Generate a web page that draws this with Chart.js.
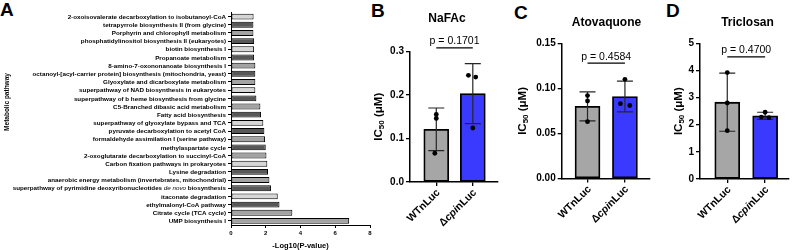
<!DOCTYPE html>
<html>
<head>
<meta charset="utf-8">
<script src="https://cdn.jsdelivr.net/npm/chart.js@4/dist/chart.umd.min.js"></script>
<style>
  body { margin: 0; background: #fff; width: 793px; height: 250px; overflow: hidden; position: relative; font-family: "Liberation Sans", Arial, sans-serif; }
  canvas { position: absolute; top: 0; }
  .panel { position: absolute; font-weight: bold; font-size: 19px; line-height: 1; color: #000; }
</style>
</head>
<body>
<div class="panel" style="left:0;top:0">A</div>
<div class="panel" style="left:371px;top:1px">B</div>
<div class="panel" style="left:514px;top:3px">C</div>
<div class="panel" style="left:666px;top:1px">D</div>

<canvas id="pathways" width="380" height="250" style="left:0"></canvas>
<canvas id="nafac" width="135" height="250" style="left:370px"></canvas>
<canvas id="atovaquone" width="150" height="250" style="left:505px"></canvas>
<canvas id="triclosan" width="138" height="250" style="left:655px"></canvas>

<script>
// --- panel A: enriched pathways ---
const pathways = [
  '2-oxoisovalerate decarboxylation to isobutanoyl-CoA',
  'tetrapyrrole biosynthesis II (from glycine)',
  'Porphyrin and chlorophyll metabolism',
  'phosphatidylinositol biosynthesis II (eukaryotes)',
  'biotin biosynthesis I',
  'Propanoate metabolism',
  '8-amino-7-oxononanoate biosynthesis I',
  'octanoyl-[acyl-carrier protein] biosynthesis (mitochondria, yeast)',
  'Glyoxylate and dicarboxylate metabolism',
  'superpathway of NAD biosynthesis in eukaryotes',
  'superpathway of b heme biosynthesis from glycine',
  'C5-Branched dibasic acid metabolism',
  'Fatty acid biosynthesis',
  'superpathway of glyoxylate bypass and TCA',
  'pyruvate decarboxylation to acetyl CoA',
  'formaldehyde assimilation I (serine pathway)',
  'methylaspartate cycle',
  '2-oxoglutarate decarboxylation to succinyl-CoA',
  'Carbon fixation pathways in prokaryotes',
  'Lysine degradation',
  'anaerobic energy metabolism (invertebrates, mitochondrial)',
  'superpathway of pyrimidine deoxyribonucleotides de novo biosynthesis',
  'itaconate degradation',
  'ethylmalonyl-CoA pathway',
  'Citrate cycle (TCA cycle)',
  'UMP biosynthesis I'
];
const negLogP = [1.30, 1.29, 1.29, 1.33, 1.33, 1.33, 1.40, 1.40, 1.40, 1.40, 1.46, 1.69, 1.73,
                 1.86, 1.92, 1.96, 2.00, 2.04, 2.09, 2.13, 2.21, 2.30, 2.69, 2.79, 3.53, 6.80];
const logTicks = [0, 2, 4, 6, 8];

// --- panels B-D: IC50 per strain ---
const strains = ['WTnLuc', 'ΔcpinLuc'];
const nafacMean = [0.121, 0.203];
const nafacSd = [0.049, 0.069];
const nafacReps = [[0.155, 0.146, 0.066], [0.245, 0.241, 0.124]];
const atovMean = [0.080, 0.091];
const atovSd = [0.016, 0.017];
const atovReps = [[0.092, 0.086, 0.063], [0.110, 0.083, 0.081]];
const triclMean = [2.83, 2.33];
const triclSd = [1.07, 0.13];
const triclReps = [[3.92, 2.80, 1.78], [2.46, 2.28, 2.26]];
const pValues = ['0.1701', '0.4584', '0.4700'];

// stijl
const FONT = '"Liberation Sans", Arial, sans-serif';
const LIGHT = '#d6d6d6', MID = '#a3a3a3', DARK = '#585858';
const pathwayColors = [LIGHT, DARK, MID, DARK, LIGHT, DARK, MID, DARK, MID, LIGHT, DARK, MID, DARK,
                       LIGHT, DARK, MID, DARK, MID, LIGHT, DARK, MID, DARK, LIGHT, DARK, MID, MID];
const strainColors = ['#a6a6a6', '#3a3aff'];
const italicTerms = ['de novo', 'cpi'];

function splitItalic(text) {
  const term = italicTerms.find(t => text.includes(t));
  if (!term) return [{ t: text, it: false }];
  const i = text.indexOf(term);
  return [
    { t: text.slice(0, i), it: false },
    { t: term, it: true },
    { t: text.slice(i + term.length), it: false }
  ].filter(s => s.t.length);
}

// draws text with italic pieces, anchored at x (right / center / left)
function drawRich(ctx, text, x, y, size, align, italicBold) {
  const segs = splitItalic(text);
  const fontOf = s => s.it ? `italic ${italicBold ? 'bold ' : ''}${size}px ${FONT}`
                           : `bold ${size}px ${FONT}`;
  let total = 0;
  segs.forEach(s => { ctx.font = fontOf(s); s.w = ctx.measureText(s.t).width; total += s.w; });
  let cx = align === 'right' ? x - total : align === 'center' ? x - total / 2 : x;
  ctx.textAlign = 'left';
  segs.forEach(s => { ctx.font = fontOf(s); ctx.fillText(s.t, cx, y); cx += s.w; });
}

const pathwayLabels = {
  id: 'pathwayLabels',
  afterDraw(chart) {
    const ctx = chart.ctx;
    const y = chart.scales.y;
    ctx.save();
    ctx.fillStyle = '#000';
    ctx.textBaseline = 'middle';
    pathways.forEach((p, i) => {
      drawRich(ctx, p, y.right - 5, y.getPixelForTick(i) + 0.5, 6.25, 'right', false);
    });
    // as-titel
    ctx.translate(7, 102);
    ctx.rotate(-Math.PI / 2);
    ctx.font = `bold 6.5px ${FONT}`;
    ctx.textAlign = 'center';
    ctx.fillText('Metabolic pathway', 0, 0);
    ctx.restore();
  }
};

new Chart(document.getElementById('pathways'), {
  type: 'bar',
  data: {
    labels: pathways,
    datasets: [{
      data: negLogP,
      backgroundColor: pathwayColors,
      borderColor: '#000',
      borderWidth: 1,
      borderSkipped: false,
      barPercentage: 0.72,
      categoryPercentage: 1
    }]
  },
  options: {
    indexAxis: 'y',
    responsive: false,
    animation: false,
    devicePixelRatio: 1,
    layout: { padding: { top: 12.5, right: 10, left: 0, bottom: 0 } },
    plugins: { legend: { display: false }, tooltip: { enabled: false } },
    scales: {
      x: {
        min: 0, max: 8,
        afterBuildTicks: s => { s.ticks = logTicks.map(v => ({ value: v })); },
        ticks: { font: { size: 6, weight: 'bold', family: FONT }, color: '#000', padding: 2, maxRotation: 0 },
        grid: { drawOnChartArea: false, tickLength: 3, color: '#000' },
        border: { color: '#000', width: 1 },
        title: { display: true, text: '-Log10(P-value)', font: { size: 7.5, weight: 'bold', family: FONT }, color: '#000', padding: 0 },
        afterFit: s => { s.height = 25; }
      },
      y: {
        ticks: { display: false },
        grid: { drawOnChartArea: false, tickLength: 3, color: '#000', offset: false },
        border: { color: '#000', width: 1 },
        afterFit: s => { s.width = 231; }
      }
    }
  },
  plugins: [pathwayLabels]
});

// --- IC50 panels ---
function ic50Chart(id, title, means, sds, reps, pText, cfg) {
  const barData = means.map((m, i) => ({ x: i, y: m }));
  const dotData = [];
  reps.forEach((vals, i) => vals.forEach((v, j) => dotData.push({ x: i + cfg.jitter[i][j], y: v })));

  const extras = {
    id: 'extras' + id,
    afterDatasetDraw(chart, args) {
      if (args.meta.type !== 'bar') return;
      const ctx = chart.ctx, xs = chart.scales.x, ys = chart.scales.y;
      ctx.save();
      ctx.strokeStyle = '#262626';
      ctx.lineWidth = 1.2;
      means.forEach((m, i) => {
        const x = xs.getPixelForValue(i);
        const top = ys.getPixelForValue(m + sds[i]);
        const bot = ys.getPixelForValue(m - sds[i]);
        ctx.beginPath();
        ctx.moveTo(x, top); ctx.lineTo(x, bot);
        ctx.moveTo(x - 8, top); ctx.lineTo(x + 8, top);
        ctx.moveTo(x - 8, bot); ctx.lineTo(x + 8, bot);
        ctx.stroke();
      });
      ctx.restore();
    },
    afterDraw(chart) {
      const ctx = chart.ctx, xs = chart.scales.x, ys = chart.scales.y, area = chart.chartArea;
      ctx.save();
      ctx.fillStyle = '#000';
      // titel
      ctx.font = `bold 12px ${FONT}`;
      ctx.textAlign = 'center';
      ctx.textBaseline = 'middle';
      ctx.fillText(title, cfg.titleX, cfg.titleY);
      // p-waarde met lijn
      const x0 = xs.getPixelForValue(0), x1 = xs.getPixelForValue(1);
      const by = ys.getPixelForValue(cfg.bracketY);
      ctx.strokeStyle = '#000';
      ctx.lineWidth = 1.2;
      ctx.beginPath(); ctx.moveTo(x0, by); ctx.lineTo(x1, by); ctx.stroke();
      ctx.font = `10.5px ${FONT}`;
      ctx.textBaseline = 'alphabetic';
      ctx.fillText('p = ' + pText, (x0 + x1) / 2, by - 3.5);
      // x labels, 45 graden
      ctx.textBaseline = 'middle';
      strains.forEach((s, i) => {
        ctx.save();
        ctx.translate(xs.getPixelForValue(i) + 2, area.bottom + 9);
        ctx.rotate(-Math.PI / 4);
        drawRich(ctx, s, 0, 0, 10.5, 'right', true);
        ctx.restore();
      });
      // y titel: IC50 (uM)
      ctx.translate(cfg.yTitleX, (area.top + area.bottom) / 2);
      ctx.rotate(-Math.PI / 2);
      const parts = [['IC', 11.5, 0], ['50', 8, 3], [' (μM)', 11.5, 0]];
      let w = 0;
      parts.forEach(p => { ctx.font = `bold ${p[1]}px ${FONT}`; w += ctx.measureText(p[0]).width; });
      let cx = -w / 2;
      ctx.textAlign = 'left';
      parts.forEach(p => {
        ctx.font = `bold ${p[1]}px ${FONT}`;
        ctx.fillText(p[0], cx, p[2]);
        cx += ctx.measureText(p[0]).width;
      });
      ctx.restore();
    }
  };

  return new Chart(document.getElementById(id), {
    type: 'bar',
    data: {
      datasets: [
        {
          type: 'scatter',
          data: dotData,
          pointRadius: 2.4,
          pointBackgroundColor: '#000',
          pointBorderWidth: 0,
          order: 0
        },
        {
          data: barData,
          backgroundColor: strainColors,
          borderColor: '#000',
          borderWidth: 1.8,
          borderSkipped: false,
          barThickness: 25,
          order: 1
        }
      ]
    },
    options: {
      responsive: false,
      animation: false,
      devicePixelRatio: 1,
      layout: { padding: { top: cfg.top, right: cfg.right, left: 0, bottom: 0 } },
      plugins: { legend: { display: false }, tooltip: { enabled: false } },
      scales: {
        x: {
          type: 'linear',
          offset: false,
          min: cfg.xMin, max: cfg.xMax,
          afterBuildTicks: s => { s.ticks = strains.map((_, i) => ({ value: i })); },
          ticks: { display: false },
          grid: { drawOnChartArea: false, tickLength: 4, color: '#000', lineWidth: 1.3, offset: false },
          border: { color: '#000', width: 1.5 },
          afterFit: s => { s.height = cfg.xHeight; }
        },
        y: {
          min: 0, max: cfg.yMax,
          ticks: {
            stepSize: cfg.yStep,
            font: { size: 10, weight: 'bold', family: FONT },
            color: '#000',
            padding: 2,
            callback: v => v.toFixed(cfg.decimals)
          },
          grid: { drawOnChartArea: false, tickLength: 4, color: '#000', lineWidth: 1.3 },
          border: { color: '#000', width: 1.5 },
          afterFit: s => { s.width = cfg.yWidth; }
        }
      }
    },
    plugins: [extras]
  });
}

ic50Chart('nafac', 'NaFAc', nafacMean, nafacSd, nafacReps, pValues[0], {
  top: 51.4, right: 7, yWidth: 40, xHeight: 68,
  xMin: -0.72, xMax: 1.69, yMax: 0.3, yStep: 0.1, decimals: 1,
  bracketY: 0.308, titleX: 77, titleY: 19, yTitleX: 9,
  jitter: [[0, 0, -0.04], [-0.12, 0.08, 0]]
});
ic50Chart('atovaquone', 'Atovaquone', atovMean, atovSd, atovReps, pValues[1], {
  top: 43.3, right: 5, yWidth: 56.7, xHeight: 71.5,
  xMin: -0.69, xMax: 1.67, yMax: 0.15, yStep: 0.05, decimals: 2,
  bracketY: 0.128, titleX: 101.5, titleY: 22.5, yTitleX: 18,
  jitter: [[0, 0, 0], [0, -0.12, 0.13]]
});
ic50Chart('triclosan', 'Triclosan', triclMean, triclSd, triclReps, pValues[2], {
  top: 43.3, right: 3, yWidth: 45, xHeight: 71,
  xMin: -0.72, xMax: 1.63, yMax: 5, yStep: 1, decimals: 0,
  bracketY: 4.5, titleX: 92.5, titleY: 22.5, yTitleX: 24,
  jitter: [[0, 0, 0], [0, -0.1, 0.1]]
});
</script>
</body>
</html>
